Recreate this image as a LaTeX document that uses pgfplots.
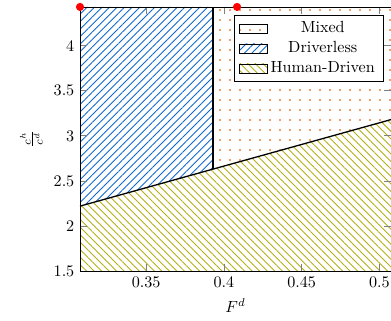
\documentclass[border=0pt]{standalone}
\usepackage{pgfplots}
\pgfplotsset{compat=1.18}
\usetikzlibrary{patterns.meta}
\definecolor{cblue}{RGB}{15,105,205}
\definecolor{corange}{RGB}{232,128,60}
\definecolor{cyellow}{RGB}{180,175,20}
\begin{document}
\begin{tikzpicture}
\begin{axis}[
  scale only axis,
  width=192.8pt, height=163.7pt,
  xmin=0.3075, xmax=0.5075,
  ymin=1.5, ymax=4.43,
  clip=false,
  xtick={0.35,0.4,0.45,0.5},
  xticklabels={0.35,0.4,0.45,0.5},
  ytick={1.5,2,2.5,3,3.5,4},
  yticklabels={1.5,2,2.5,3,3.5,4},
  tick style={gray, thin},
  xlabel={$F^d$},
  ylabel={$\frac{c^h}{c^d}$},
  axis on top,
  legend style={at={(0.975,0.97)}, anchor=north east, draw=black, fill=white, cells={anchor=center}},
  legend cell align=center,
]
\addplot[draw=none, pattern={Dots[distance=6.2pt, radius=0.7pt]}, pattern color=corange, area legend] coordinates {(0.393,2.63) (0.5075,3.18) (0.5075,4.43) (0.393,4.43)} \closedcycle;
\addlegendentry{Mixed}
\addplot[draw=none, pattern={Lines[angle=45, distance=3.3pt, line width=0.55pt]}, pattern color=cblue, area legend] coordinates {(0.3075,2.22) (0.393,2.63) (0.393,4.43) (0.3075,4.43)} \closedcycle;
\addlegendentry{Driverless}
\addplot[draw=none, pattern={Lines[angle=-45, distance=3.3pt, line width=0.55pt]}, pattern color=cyellow, area legend] coordinates {(0.3075,1.5) (0.5075,1.5) (0.5075,3.18) (0.3075,2.22)} \closedcycle;
\addlegendentry{Human-Driven}
\addplot[black, line width=0.8pt, forget plot] coordinates {(0.3075,2.22) (0.5075,3.18)};
\addplot[black, line width=0.8pt, forget plot] coordinates {(0.393,2.63) (0.393,4.43)};
\addplot[only marks, mark=*, mark size=2.3pt, red, forget plot] coordinates {(0.3075,4.43) (0.4085,4.43)};
\end{axis}
\pgfresetboundingbox
\path (current axis.south west) ++(-49.6pt,-30.4pt) coordinate (bbsw);
\path ([yshift=4.3pt]current axis.north east) coordinate (bbne);
\useasboundingbox (bbsw) rectangle (bbne);
\end{tikzpicture}
\end{document}
